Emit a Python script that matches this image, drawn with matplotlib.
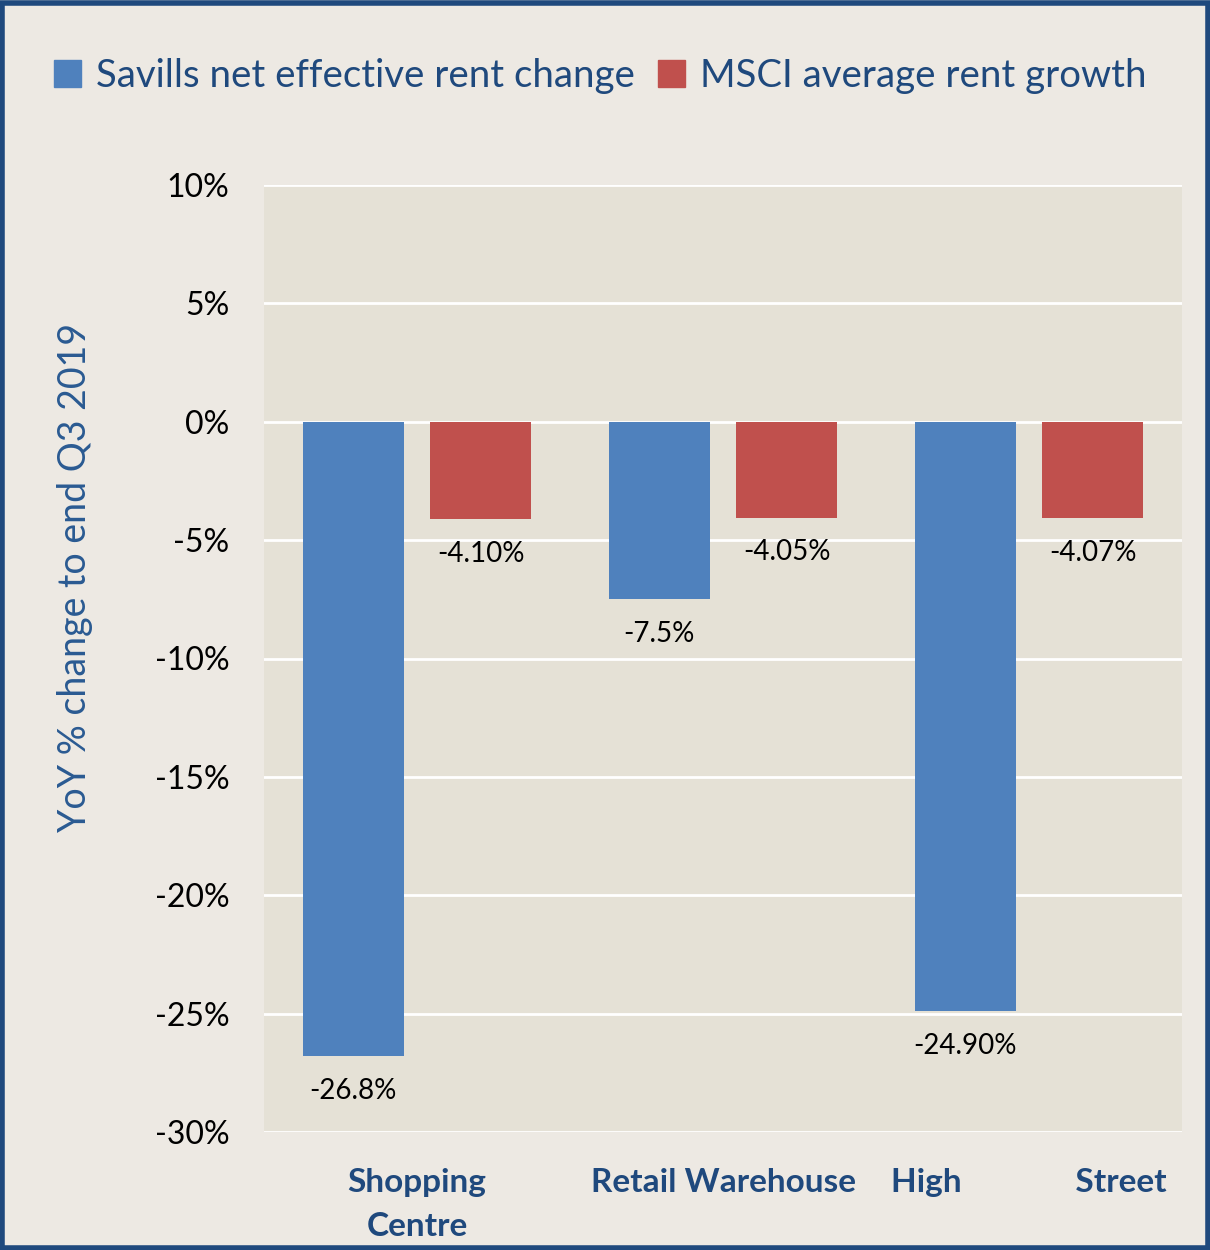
import matplotlib
matplotlib.use("Agg")
import matplotlib.pyplot as plt
from matplotlib.patches import Patch, Rectangle
import numpy as np

plt.rcParams['font.family'] = ['Lato', 'DejaVu Sans']

categories = ['Shopping\nCentre', 'Retail Warehouse', 'High              Street']
savills = [-26.8, -7.5, -24.9]
msci = [-4.10, -4.05, -4.07]
savills_labels = ['-26.8%', '-7.5%', '-24.90%']
msci_labels = ['-4.10%', '-4.05%', '-4.07%']
yticks = [10, 5, 0, -5, -10, -15, -20, -25, -30]

blue = '#4F81BD'
red = '#C0504D'
navy = '#1F497D'

fig = plt.figure(figsize=(12.1, 12.5), dpi=100, facecolor='#EDE9E3')
ax = fig.add_axes([0.2182, 0.0944, 0.7587, 0.7576])
ax.set_facecolor('#E5E1D6')

x = np.arange(len(categories))
w = 0.33
off = 0.208
b1 = ax.bar(x - off, savills, w, color=blue, zorder=3)
b2 = ax.bar(x + off, msci, w, color=red, zorder=3)

# value labels under the end of each bar
for rect, lab in zip(b1, savills_labels):
    ax.annotate(lab, (rect.get_x() + rect.get_width() / 2, rect.get_height()),
                xytext=(0, -25), textcoords='offset points', ha='center', va='center',
                fontsize=20, color='black', zorder=4)
for rect, lab in zip(b2, msci_labels):
    ax.annotate(lab, (rect.get_x() + rect.get_width() / 2, rect.get_height()),
                xytext=(0, -25), textcoords='offset points', ha='center', va='center',
                fontsize=20, color='black', zorder=4)

ax.set_xlim(-0.5, 2.5)
ax.set_ylim(-30, 10)
ax.set_yticks(yticks)
ax.set_yticklabels([f'{t}%' for t in yticks], fontsize=23)
ax.set_xticks(x)
ax.set_xticklabels(categories, fontsize=24, fontweight='bold', color=navy, linespacing=1.6)
ax.tick_params(axis='y', length=0, pad=25)
ax.tick_params(axis='x', length=0, pad=26)
ax.yaxis.grid(True, color='white', linewidth=2, zorder=1)
for s in ax.spines.values():
    s.set_visible(False)

fig.text(75 / 1210, 1 - 577 / 1250, 'YoY % change to end Q3 2019', rotation=90,
         ha='center', va='center', fontsize=27, color='#2A5A92')

handles = [Patch(color=blue, label='Savills net effective rent change'),
           Patch(color=red, label='MSCI average rent growth')]
fig.legend(handles=handles, loc='center', bbox_to_anchor=(0.496, 1 - 76 / 1250), ncol=2,
           frameon=False, fontsize=27.6, labelcolor=navy, handlelength=0.7, handleheight=0.7,
           handletextpad=0.4, columnspacing=0.6)

fig.patches.append(Rectangle((0.002, 0.002), 0.996, 0.996, transform=fig.transFigure,
                             fill=False, edgecolor=navy, linewidth=4))

fig.savefig('out.png', dpi=100, facecolor=fig.get_facecolor())
